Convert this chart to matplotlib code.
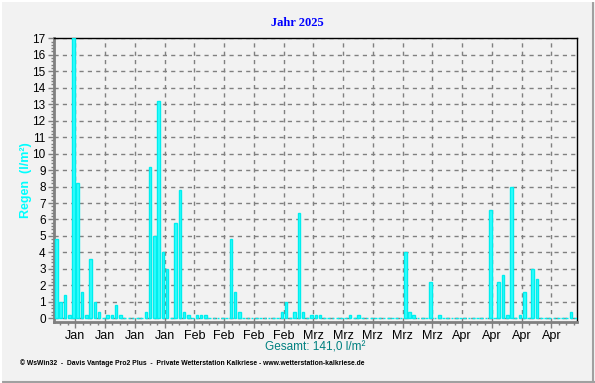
import numpy as np
import pandas as pd
import matplotlib
matplotlib.use("Agg")
import matplotlib.pyplot as plt
from matplotlib.lines import Line2D

# ---- Daily rain (l/m²), 1 Jan 2025 .. 3 May 2025 ----
jan = [4.8, 1.0, 1.4, 0.2, 17.0, 8.2, 1.6, 0.2, 3.6, 1.0, 0.4, 0.0, 0.2, 0.2, 0.8, 0.2,
       0.0, 0.0, 0.0, 0.0, 0.0, 0.4, 9.2, 5.0, 13.2, 4.0, 3.0, 0.0, 5.8, 7.8, 0.4]
feb = [0.2, 0.0, 0.2, 0.2, 0.2, 0.0, 0.0, 0.0, 0.0, 0.0, 4.8, 1.6, 0.4, 0.0, 0.0, 0.0,
       0.0, 0.0, 0.0, 0.0, 0.0, 0.0, 0.4, 1.0, 0.0, 0.4, 6.4, 0.4]
mar = [0.0, 0.2, 0.2, 0.2, 0.0, 0.0, 0.0, 0.0, 0.0, 0.0, 0.2, 0.0, 0.2, 0.0, 0.0, 0.0,
       0.0, 0.0, 0.0, 0.0, 0.0, 0.0, 0.0, 4.0, 0.4, 0.2, 0.0, 0.0, 0.0, 2.2, 0.0]
apr = [0.2, 0.0, 0.0, 0.0, 0.0, 0.0, 0.0, 0.0, 0.0, 0.0, 0.0, 0.0, 6.6, 0.0, 2.2, 2.6,
       0.2, 8.0, 0.0, 0.2, 1.6, 0.0, 3.0, 2.4, 0.0, 0.0, 0.0, 0.0, 0.0, 0.0]
may = [0.0, 0.4, 0.0]

month_names = {1: "Jan", 2: "Feb", 3: "Mrz", 4: "Apr", 5: "Mai"}
title = "Jahr 2025"
ylabel = "Regen  (l/m²)"
footer = ("© WsWin32  -  Davis Vantage Pro2 Plus  -  Private Wetterstation Kalkriese"
          " - www.wetterstation-kalkriese.de")

rain = np.array(jan + feb + mar + apr + may)
days = pd.date_range("2025-01-01", periods=len(rain), freq="D")
total = rain.sum()

# weekly ticks on Mondays
mondays = pd.date_range("2025-01-06", "2025-04-28", freq="7D")
tick_pos = [(d - days[0]).days for d in mondays]
tick_lab = [month_names[d.month] for d in mondays]

# ---- Style ----
BG = "#f2f2f2"
plt.rcParams["font.family"] = ["Liberation Sans", "DejaVu Sans"]

fig = plt.figure(figsize=(5.95, 3.83), dpi=100, facecolor=BG)
W, H = 595, 383
ax = fig.add_axes([54 / W, 1 - 321.6 / H, 523 / W, (321.6 - 38.3) / H])
ax.set_facecolor(BG)

x = np.arange(len(rain)) + 0.6
ax.bar(x, rain, width=0.62, color="#33ffff", edgecolor="#00eeee",
       linewidth=1.0, zorder=3)

ax.set_yticks(range(0, 18))
ax.set_yticks(np.arange(0, 17.01, 0.2), minor=True)
ax.set_xticks(tick_pos)
ax.set_xticklabels(tick_lab)
ax.set_xticks(np.arange(5 - 7, 123, 1.75), minor=True)
ax.set_xlim(0, 123)
ax.set_ylim(-0.2, 17)

ax.grid(True, which="major", color="#808080", linestyle=(0, (3, 3)), linewidth=1.0, zorder=1)
ax.tick_params(axis="both", which="major", labelsize=9, colors="#808080",
               labelcolor="black", length=4, width=1)
ax.tick_params(axis="y", which="major", labelsize=8.5)
ax.tick_params(axis="both", which="minor", colors="#808080", length=2, width=1)
ax.tick_params(axis="y", pad=2)
ax.tick_params(axis="x", pad=2)

for s in ("top", "right"):
    ax.spines[s].set_color("black")
    ax.spines[s].set_linewidth(1.0)
for s in ("left", "bottom"):
    ax.spines[s].set_color("#808080")
    ax.spines[s].set_linewidth(2.0)

ax.set_ylabel(ylabel, color="#00ffff", fontsize=9, fontweight="bold", labelpad=0)

fig.text(0.5, 1 - 23 / H, title, ha="center", va="center", color="#0000ff",
         fontsize=9, fontweight="bold", family=["Liberation Serif", "DejaVu Serif"])
fig.text(315 / W, 1 - 348 / H, "Gesamt: %s l/m²" % f"{total:.1f}".replace(".", ","),
         ha="center", va="center", color="#008080", fontsize=8.5)
fig.text(20 / W, 1 - 363.5 / H, footer, ha="left", va="center", color="black",
         fontsize=4.9, fontweight="bold")

# window frame
fig.add_artist(Line2D([0, 1], [1.5 / H, 1.5 / H], color="#a0a0a0", linewidth=1.5, transform=fig.transFigure))
fig.add_artist(Line2D([1 - 2.5 / W, 1 - 2.5 / W], [0, 1], color="#a0a0a0", linewidth=1.5, transform=fig.transFigure))
fig.add_artist(Line2D([0, 1], [1 - 1 / H, 1 - 1 / H], color="white", linewidth=1.5, transform=fig.transFigure))
fig.add_artist(Line2D([1 / W, 1 / W], [0, 1], color="white", linewidth=1.5, transform=fig.transFigure))

fig.savefig("out.png", dpi=100, facecolor=BG)
